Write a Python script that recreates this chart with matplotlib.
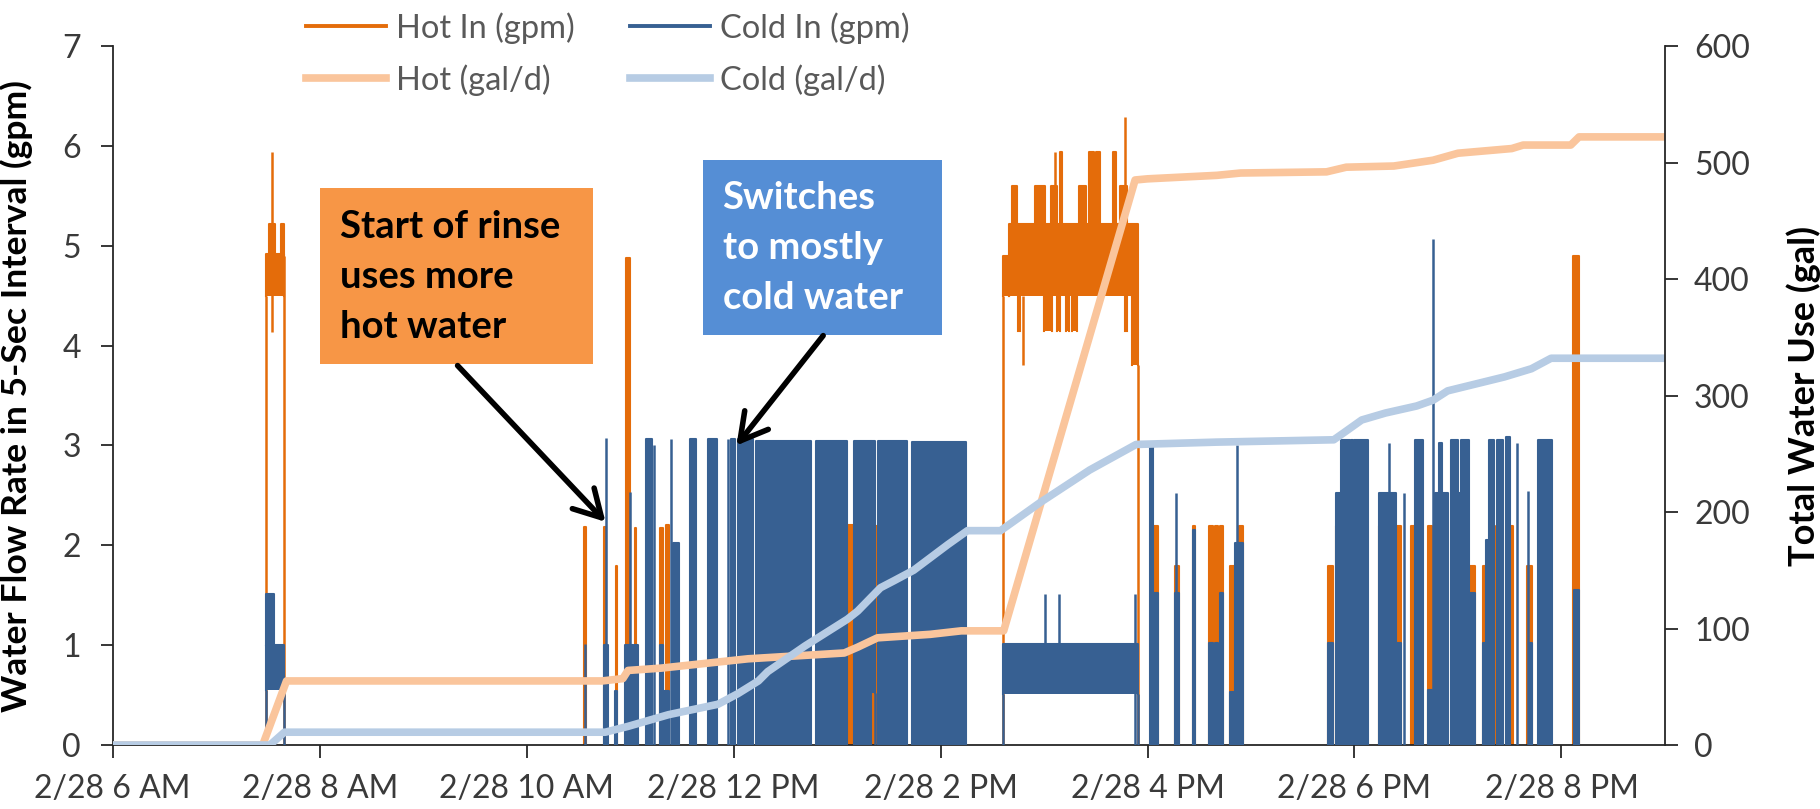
import matplotlib
matplotlib.use("Agg")
import matplotlib.pyplot as plt
from matplotlib.lines import Line2D
from matplotlib.patches import Rectangle

plt.rcParams['font.family'] = ['Lato', 'DejaVu Sans']

# Times are decimal hours on 2/28, flows in gpm, totals in gallons

# Hot flow: blocks where the 5-sec readings swing between low and high
hot_band_start = [7.48, 7.51, 7.63, 14.60, 14.66, 15.85,
                  14.686, 14.917, 15.07, 15.335, 15.736,
                  15.158, 15.43, 15.505, 15.67,
                  14.745, 15.00, 15.126, 15.21, 15.27, 15.78,
                  10.55, 10.75, 10.86, 10.965, 11.045, 11.29, 11.35, 13.096, 13.33,
                  16.04, 16.27, 16.44, 16.59, 16.65, 16.70, 16.80, 16.88,
                  17.74, 17.82, 18.24, 18.40, 18.55, 18.71,
                  19.11, 19.24, 19.365, 19.50, 19.67, 20.11]
hot_band_end = [7.66, 7.57, 7.66, 14.66, 15.85, 15.91,
                14.743, 15.013, 15.126, 15.41, 15.80,
                15.177, 15.48, 15.54, 15.70,
                14.77, 15.08, 15.158, 15.24, 15.32, 15.80,
                10.57, 10.765, 10.87, 11.00, 11.06, 11.32, 11.375, 13.16, 13.40,
                16.10, 16.30, 16.46, 16.63, 16.68, 16.73, 16.84, 16.92,
                17.79, 17.84, 18.27, 18.45, 18.58, 18.75,
                19.16, 19.29, 19.40, 19.53, 19.72, 20.17]
hot_band_low = [4.50, 4.90, 4.90, 4.50, 4.50, 3.81,
                5.22, 5.22, 5.22, 5.22, 5.22,
                5.22, 5.22, 5.22, 5.22,
                4.15, 4.15, 4.15, 4.15, 4.15, 4.15,
                0, 0, 0, 0, 0, 0, 0, 0, 0,
                0, 0, 0, 0, 0, 0, 0, 0,
                0, 0, 0, 0, 0, 0,
                0, 0, 0, 0, 0, 0]
hot_band_high = [4.92, 5.22, 5.22, 4.90, 5.22, 5.22,
                 5.60, 5.60, 5.60, 5.60, 5.60,
                 5.94, 5.94, 5.94, 5.94,
                 4.50, 4.50, 4.50, 4.50, 4.50, 4.50,
                 2.18, 2.18, 1.79, 4.88, 2.17, 2.17, 2.20, 2.20, 2.19,
                 2.19, 1.79, 2.19, 2.19, 2.19, 2.19, 1.79, 2.19,
                 1.79, 2.19, 2.19, 2.19, 2.19, 2.19,
                 1.79, 1.79, 2.19, 2.19, 1.79, 4.90]

# Hot flow: single 5-sec readings (incl. the rise from zero into a block)
hot_spike_time = [7.48, 7.66, 7.54, 14.60, 15.91, 15.11, 15.784, 14.80]
hot_spike_low = [0, 0, 4.14, 0, 0, 5.22, 5.22, 3.81]
hot_spike_high = [4.50, 4.90, 5.94, 4.50, 3.81, 5.94, 6.29, 4.50]

# Cold flow blocks
cold_band_start = [7.48, 7.48, 14.60, 13.33,
                   10.745, 10.855, 10.95, 11.04, 11.15, 11.29, 11.33, 11.41, 11.58, 11.75,
                   11.975, 12.04, 12.22, 12.80, 13.16, 13.40, 13.72,
                   16.02, 16.05, 16.27, 16.44, 16.59, 16.65, 16.70, 16.80, 16.85,
                   17.74, 17.82, 17.87, 17.97, 18.00, 18.24, 18.40, 18.58, 18.71,
                   18.78, 18.82, 18.85, 18.93, 19.00, 19.03, 19.11, 19.24, 19.27,
                   19.30, 19.38, 19.46, 19.69, 19.77, 20.12]
cold_band_end = [7.66, 7.56, 15.91, 13.37,
                 10.79, 10.875, 11.03, 11.08, 11.21, 11.32, 11.375, 11.47, 11.64, 11.84,
                 12.01, 12.19, 12.75, 13.10, 13.33, 13.68, 14.25,
                 16.05, 16.10, 16.30, 16.46, 16.63, 16.68, 16.73, 16.84, 16.92,
                 17.79, 17.87, 17.96, 17.99, 18.13, 18.40, 18.45, 18.66, 18.75,
                 18.81, 18.85, 18.90, 19.00, 19.03, 19.11, 19.16, 19.27, 19.30,
                 19.35, 19.44, 19.50, 19.72, 19.91, 20.17]
cold_band_low = [0.55, 1.00, 0.51, 0.52,
                 0, 0, 0, 0, 0, 0, 0, 0, 0, 0,
                 0, 0, 0, 0, 0, 0, 0,
                 0, 0, 0, 0, 0, 0, 0, 0, 0,
                 0, 0, 0, 0, 0, 0, 0, 0, 0,
                 0, 0, 0, 0, 0, 0, 0, 0, 0,
                 0, 0, 0, 0, 0, 0]
cold_band_high = [1.00, 1.51, 1.01, 3.04,
                  1.00, 0.54, 1.00, 1.00, 3.06, 1.00, 0.54, 2.02, 3.06, 3.06,
                  3.06, 3.06, 3.04, 3.04, 3.04, 3.04, 3.03,
                  3.00, 1.52, 1.52, 2.15, 1.02, 1.02, 1.52, 0.53, 2.02,
                  1.02, 2.52, 3.05, 3.05, 3.05, 2.52, 1.02, 3.05, 0.55,
                  2.52, 3.02, 2.52, 3.05, 2.52, 3.05, 1.52, 1.02, 2.05,
                  3.05, 3.05, 3.08, 1.02, 3.05, 1.55]

cold_spike_time = [7.48, 7.66, 14.60, 15.91, 13.37,
                   10.56, 10.77, 10.995, 11.235, 11.40, 11.95, 15.01, 15.14, 15.875,
                   16.28, 16.86, 18.33, 18.48, 18.76, 19.57, 19.68]
cold_spike_low = [0, 0, 0, 0, 0,
                  0, 0, 0, 0, 0, 0, 1.01, 1.01, 0,
                  0, 0, 0, 0, 0, 0, 0]
cold_spike_high = [0.55, 0.55, 0.51, 0.51, 0.52,
                   1.01, 3.07, 2.53, 3.00, 3.06, 3.06, 1.51, 1.51, 1.51,
                   2.52, 3.00, 3.02, 2.52, 5.07, 3.02, 2.54]

# Running daily totals
hot_total_time = [6.0, 7.45, 7.68, 10.73, 10.93, 10.98, 11.30, 12.14, 13.07, 13.20,
                  13.39, 13.90, 14.20, 14.61, 15.88, 16.00, 16.67, 16.90, 17.73,
                  17.92, 18.38, 18.76, 19.00, 19.52, 19.63, 20.09, 20.17, 21.0]
hot_total_gal = [0, 0, 55, 55, 57, 64, 66, 74, 79, 84,
                 92, 95, 98, 98, 485, 486, 489, 491, 492,
                 496, 497, 502, 508, 512, 515, 515, 522, 522]
cold_total_time = [6.0, 7.52, 7.66, 10.76, 10.98, 11.37, 11.85, 12.04, 12.24, 12.33,
                   12.69, 13.10, 13.20, 13.42, 13.55, 13.74, 14.07, 14.26, 14.58,
                   14.96, 15.44, 15.89, 16.67, 17.80, 17.88, 18.07, 18.30, 18.60,
                   18.76, 18.90, 19.45, 19.71, 19.90, 21.0]
cold_total_gal = [0, 0, 11, 11, 16, 26, 35, 44, 55, 63,
                  85, 108, 115, 135, 141, 150, 172, 184, 184,
                  208, 236, 258, 260, 262, 267, 279, 285, 291,
                  296, 304, 316, 323, 332, 332]

tick_hours = [6, 8, 10, 12, 14, 16, 18, 20]
tick_labels = ['2/28 6 AM', '2/28 8 AM', '2/28 10 AM', '2/28 12 PM',
               '2/28 2 PM', '2/28 4 PM', '2/28 6 PM', '2/28 8 PM']

HOT = '#E46C0A'
COLD = '#376092'
HOT_TOTAL = '#FAC59C'
COLD_TOTAL = '#B7CCE4'
TEXT = '#3a3a3a'


def draw_bands(ax, starts, ends, lows, highs, color, z):
    # each block is filled between its low and high readings, with an outline
    # so that very short blocks still show up as a line
    for s, e, lo, hi in zip(starts, ends, lows, highs):
        ax.fill_between([s, e], lo, hi, color=color, linewidth=0, zorder=z)
        ax.plot([s, s, e, e], [lo, hi, hi, lo], color=color, lw=1.5, zorder=z)


fig = plt.figure(figsize=(18.2, 8.09), dpi=100)
ax = fig.add_axes([0.0619, 0.0791, 0.8529, 0.864])
ax2 = ax.twinx()

draw_bands(ax, hot_band_start, hot_band_end, hot_band_low, hot_band_high, HOT, 2)
ax.vlines(hot_spike_time, hot_spike_low, hot_spike_high, colors=HOT, lw=1.8, zorder=2)
draw_bands(ax, cold_band_start, cold_band_end, cold_band_low, cold_band_high, COLD, 3)
ax.vlines(cold_spike_time, cold_spike_low, cold_spike_high, colors=COLD, lw=1.8, zorder=3)

ax2.plot(hot_total_time, hot_total_gal, color=HOT_TOTAL, lw=5.5)
ax2.plot(cold_total_time, cold_total_gal, color=COLD_TOTAL, lw=5.5)

ax.set_xlim(6, 21)
ax.set_ylim(0, 7)
ax2.set_ylim(0, 600)
ax.set_xticks(tick_hours)
ax.set_xticklabels(tick_labels)
ax.set_yticks(range(0, 8))
ax2.set_yticks(range(0, 700, 100))

for a in (ax, ax2):
    a.spines['top'].set_visible(False)
    for side in ('left', 'right', 'bottom'):
        a.spines[side].set_color('#262626')
        a.spines[side].set_linewidth(1.3)
ax.spines['right'].set_visible(False)
ax2.spines['left'].set_visible(False)
ax2.spines['bottom'].set_visible(False)

ax.tick_params(axis='y', direction='out', length=9, width=1.3, labelsize=23,
               pad=14, labelcolor=TEXT, color='#262626')
ax.tick_params(axis='x', direction='out', length=9.5, width=1.3, labelsize=23,
               pad=11.5, labelcolor=TEXT, color='#262626')
ax2.tick_params(axis='y', direction='out', length=9, width=1.3, labelsize=23,
                pad=12, labelcolor=TEXT, color='#262626')

ax.set_ylabel('Water Flow Rate in 5-Sec Interval (gpm)', fontsize=23.5,
              fontweight='bold', color='black')
ax.yaxis.set_label_coords(-0.0513, 0.5)
ax2.set_ylabel('Total Water Use (gal)', fontsize=23.5, fontweight='bold',
               color='black', rotation=90)
ax2.yaxis.set_label_coords(1.078, 0.5)

# size both axis titles so they run the same length as in the report figure
renderer = fig.canvas.get_renderer()
for label, span_px in ((ax.yaxis.label, 630), (ax2.yaxis.label, 339)):
    height = label.get_window_extent(renderer).height
    label.set_fontsize(label.get_fontsize() * span_px / height)

# Callout boxes with arrows
ax.add_patch(Rectangle((8.007, 3.82), 2.639, 1.76, facecolor='#F79646',
                       edgecolor='none', zorder=5))
for y, line in zip([5.185, 4.685, 4.184], ['Start of rinse', 'uses more', 'hot water']):
    ax.text(8.198, y, line, fontsize=27.5, fontweight='bold', color='black',
            va='center', ha='left', zorder=6)
ax.annotate('', xy=(10.762, 2.235), xytext=(9.333, 3.80),
            arrowprops=dict(arrowstyle='->,head_length=0.8,head_width=0.45',
                            lw=4, color='black', shrinkA=0, shrinkB=0,
                            mutation_scale=24), zorder=6)

ax.add_patch(Rectangle((11.706, 4.11), 2.312, 1.75, facecolor='#558ED5',
                       edgecolor='none', zorder=5))
for y, line in zip([5.475, 4.975, 4.475], ['Switches', 'to mostly', 'cold water']):
    ax.text(11.894, y, line, fontsize=27.5, fontweight='bold', color='white',
            va='center', ha='left', zorder=6)
ax.annotate('', xy=(12.028, 3.00), xytext=(12.866, 4.10),
            arrowprops=dict(arrowstyle='->,head_length=0.8,head_width=0.45',
                            lw=4, color='black', shrinkA=0, shrinkB=0,
                            mutation_scale=24), zorder=6)

handles = [Line2D([], [], color=HOT, lw=2.8), Line2D([], [], color=HOT_TOTAL, lw=5.5),
           Line2D([], [], color=COLD, lw=2.8), Line2D([], [], color=COLD_TOTAL, lw=5.5)]
labels = ['Hot In (gpm)', 'Hot (gal/d)', 'Cold In (gpm)', 'Cold (gal/d)']
fig.legend(handles, labels, ncol=2, loc='upper left', bbox_to_anchor=(0.168, 0.985),
           frameon=False, fontsize=23.5, labelcolor='#595959', handlelength=2.45,
           handletextpad=0.3, columnspacing=1.72, labelspacing=0.62,
           borderpad=0, borderaxespad=0)

fig.savefig('out.png', dpi=100)
